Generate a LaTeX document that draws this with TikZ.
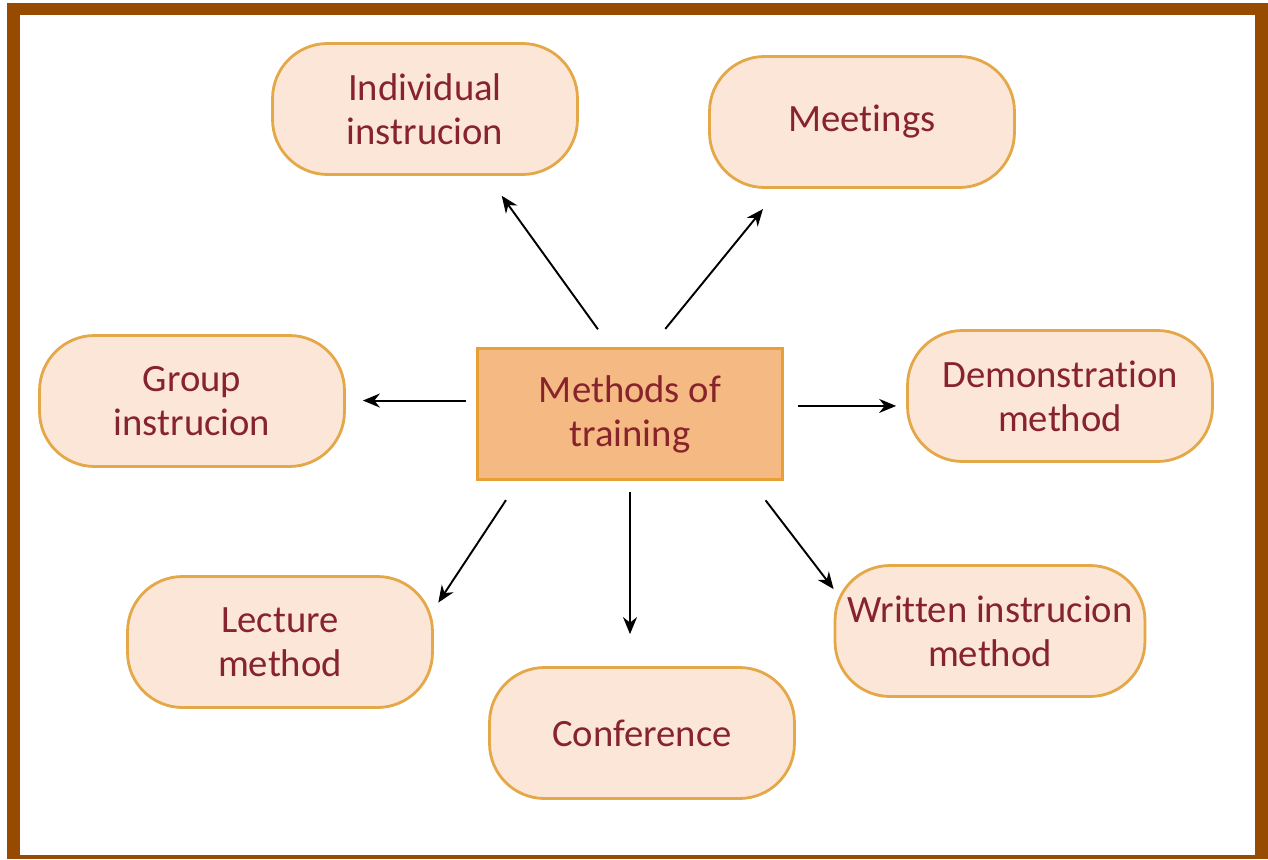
\documentclass[tikz,border=0pt]{standalone}
\usepackage{fontspec}
\setmainfont{Carlito}[Ligatures=NoCommon]
\usetikzlibrary{arrows.meta,calc}
\definecolor{FrameBrown}{RGB}{150,75,0}
\definecolor{BoxLine}{RGB}{228,168,72}
\definecolor{BoxFill}{RGB}{252,230,215}
\definecolor{HubLine}{RGB}{230,160,55}
\definecolor{HubFill}{RGB}{245,185,132}
\definecolor{TextRed}{RGB}{135,35,45}
\tikzset{
  method/.style={draw=BoxLine,line width=1.6pt,fill=BoxFill,rounded corners=1.1cm,text=TextRed,align=center,font=\fontsize{22}{25}\selectfont,minimum width=6.1cm,minimum height=2.62cm,inner sep=2pt},
  hub/.style={method,rounded corners=0pt,draw=HubLine,fill=HubFill},
  link/.style={-{Stealth[length=3.4mm,width=2.8mm]},line width=1.1pt,draw=black}
}
\begin{document}
\begin{tikzpicture}[x=0.02cm,y=-0.02cm]
  \useasboundingbox (0,0) rectangle (1268,859);
  % frame
  \fill[FrameBrown] (7,3) rectangle (1268,859);
  \fill[white] (20,15) rectangle (1255,855);
  % boxes
  \node[hub] (train) at (630,414) {Methods of\\training};
  \node[method] (indiv) at (425,109) {Individual\\instrucion};
  \node[method] (meet) at (862,122) {Meetings};
  \node[method] (group) at (192,401) {Group\\instrucion};
  \node[method] (demo) at (1060,396) {Demonstration\\method};
  \node[method] (lecture) at (280,642) {Lecture\\method};
  \node[method] (conf) at (642,733) {Conference};
  \node[method,minimum width=6.2cm] (written) at (990,631) {Written instrucion\\method};
  % arrows
  \draw[link,shorten <=0.44cm,shorten >=0.49cm] (train.106.9) -- (indiv.313.7);
  \draw[link,shorten <=0.47cm,shorten >=0.52cm] (train.73.1) -- (meet.219.2);
  \draw[link,shorten <=0.2cm,shorten >=0.34cm] (train.175.5) -- (train.175.5 -| group.east);
  \draw[link,shorten <=0.28cm,shorten >=0.2cm] (train.3) -- (train.3 -| demo.west);
  \draw[link,shorten <=0.46cm,shorten >=0.16cm] (train.211.5) -- (lecture.12.6);
  \draw[link,shorten <=0.22cm,shorten >=0.64cm] (train.south) -- (train.south |- conf.north);
  \draw[link,shorten <=0.49cm] (train.331.5) -- (written.165.9);
\end{tikzpicture}
\end{document}
